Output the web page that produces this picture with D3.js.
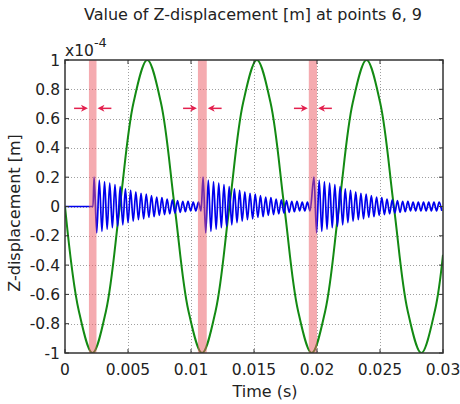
<!DOCTYPE html>
<html>
<head>
<meta charset="utf-8">
<script src="https://cdn.jsdelivr.net/npm/d3@7"></script>
<style>
  html, body { margin: 0; padding: 0; background: #fff; }
  svg { display: block; font-family: "DejaVu Sans", sans-serif; }
</style>
</head>
<body>
<svg id="chart" width="460" height="404"></svg>
<script>
// Excitation (green): time samples and displacement values (x1e-4 m)
const driveTime = [0, 0.00109, 0.00218, 0.00326, 0.00435, 0.00544, 0.00653, 0.00761,
  0.0087, 0.00979, 0.01088, 0.01196, 0.01305, 0.01414, 0.01523, 0.01631,
  0.0174, 0.01849, 0.01958, 0.02066, 0.02175, 0.02284, 0.02393, 0.02501,
  0.0261, 0.02719, 0.02828, 0.02936, 0.03];
const driveValue = [0, -0.71, -1, -0.71, 0, 0.71, 1, 0.71,
  0, -0.71, -1, -0.71, 0, 0.71, 1, 0.71,
  0, -0.71, -1, -0.71, 0, 0.71, 1, 0.71,
  0, -0.71, -1, -0.71, -0.33];

// Response (blue): impact instants and the ringing peaks that follow each one
const impactTimes = [0.00225, 0.0109, 0.0197];
const ringPeaks = [0.20, -0.18, 0.18, -0.17, 0.17, -0.155, 0.16, -0.145, 0.15, -0.135,
  0.135, -0.125, 0.12, -0.11, 0.11, -0.10, 0.10, -0.09, 0.09, -0.085,
  0.085, -0.075, 0.075, -0.07, 0.065, -0.06, 0.06, -0.055, 0.05, -0.05,
  0.045, -0.045, 0.04, -0.04, 0.035, -0.035, 0.035, -0.03, 0.03, -0.03,
  0.03, -0.03];
const tailPeaks = [0.03, -0.03, 0.03, -0.03, 0.03, -0.03, 0.03, -0.03];
const ringHalfPeriod = 0.000207;

// Contact windows (shaded) and tick labels
const contactStart = [0.0019, 0.01055, 0.01935];
const contactEnd = [0.0025, 0.01125, 0.0200];
const xTicks = [0, 0.005, 0.01, 0.015, 0.02, 0.025, 0.03];
const xTickLabels = ["0", "0.005", "0.01", "0.015", "0.02", "0.025", "0.03"];
const yTicks = [-1, -0.8, -0.6, -0.4, -0.2, 0, 0.2, 0.4, 0.6, 0.8, 1];
const yTickLabels = ["-1", "-0.8", "-0.6", "-0.4", "-0.2", "0", "0.2", "0.4", "0.6", "0.8", "1"];

const svg = d3.select("#chart");
const m = { left: 65, right: 17, top: 60, bottom: 51 };
const W = 460, H = 404;
const x = d3.scaleLinear().domain([0, 0.03]).range([m.left, W - m.right]);
const y = d3.scaleLinear().domain([-1, 1]).range([H - m.bottom, m.top]);

// Dotted grid
const grid = svg.append("g").attr("stroke", "#a0a0a0").attr("stroke-width", 1)
  .attr("stroke-dasharray", "1,2");
grid.selectAll("line.gx").data(xTicks.slice(1, -1)).join("line")
  .attr("x1", d => Math.round(x(d)) + 0.5).attr("x2", d => Math.round(x(d)) + 0.5)
  .attr("y1", y(1)).attr("y2", y(-1));
grid.selectAll("line.gy").data(yTicks.slice(1, -1)).join("line")
  .attr("y1", d => Math.round(y(d)) + 0.5).attr("y2", d => Math.round(y(d)) + 0.5)
  .attr("x1", x(0)).attr("x2", x(0.03));

// Build the response polyline from the impact data
const resp = [[0, 0], [impactTimes[0] - 0.00003, 0]];
impactTimes.forEach((t0, i) => {
  const peaks = i === impactTimes.length - 1 ? ringPeaks.concat(tailPeaks) : ringPeaks;
  peaks.forEach((v, k) => {
    const t = t0 + 0.00006 + k * ringHalfPeriod;
    if (t <= 0.03) resp.push([t, v]);
  });
});

svg.append("clipPath").attr("id", "plotclip").append("rect")
  .attr("x", x(0)).attr("y", y(1)).attr("width", x(0.03) - x(0)).attr("height", y(-1) - y(1));

const plot = svg.append("g").attr("clip-path", "url(#plotclip)");

plot.append("path")
  .datum(driveTime.map((t, i) => [t, driveValue[i]]))
  .attr("fill", "none").attr("stroke", "#138a13").attr("stroke-width", 2)
  .attr("d", d3.line().x(d => x(d[0])).y(d => y(d[1])).curve(d3.curveCatmullRom.alpha(0.5)));

plot.append("path")
  .datum(resp)
  .attr("fill", "none").attr("stroke", "#0000ee").attr("stroke-width", 1.7)
  .attr("stroke-linejoin", "round")
  .attr("d", d3.line().x(d => x(d[0])).y(d => y(d[1])).curve(d3.curveMonotoneX));

// Shaded contact windows (drawn over the curves, semi-transparent)
plot.selectAll("rect.band").data(contactStart).join("rect")
  .attr("x", (d) => x(d)).attr("width", (d, i) => x(contactEnd[i]) - x(d))
  .attr("y", y(1)).attr("height", y(-1) - y(1))
  .attr("fill", "rgb(236,88,98)").attr("opacity", 0.5);

// Arrows pointing at each window
const arrowY = y(0.67);
const arrowLen = 0.0011;
const arrowGap = 0.00008;
const arrows = [];
contactStart.forEach((s, i) => {
  arrows.push({ from: s - arrowGap - arrowLen, to: s - arrowGap });
  arrows.push({ from: contactEnd[i] + arrowGap + arrowLen, to: contactEnd[i] + arrowGap });
});
const ag = svg.append("g").attr("stroke", "#e3204e").attr("fill", "#e3204e");
arrows.forEach(a => {
  const x1 = x(a.from), x2 = x(a.to);
  const dir = Math.sign(x2 - x1);
  ag.append("line").attr("x1", x1).attr("x2", x2 - dir * 3).attr("y1", arrowY).attr("y2", arrowY)
    .attr("stroke-width", 1.5);
  ag.append("path").attr("stroke", "none")
    .attr("d", `M${x2},${arrowY} L${x2 - dir * 7},${arrowY - 3.5} L${x2 - dir * 5},${arrowY} L${x2 - dir * 7},${arrowY + 3.5} Z`);
});

// Frame and inward ticks
const axisColor = "#333";
svg.append("rect").attr("x", x(0)).attr("y", y(1))
  .attr("width", x(0.03) - x(0)).attr("height", y(-1) - y(1))
  .attr("fill", "none").attr("stroke", axisColor).attr("stroke-width", 1.5);

const tickLen = 4;
const ticks = svg.append("g").attr("stroke", axisColor).attr("stroke-width", 1);
xTicks.forEach(t => {
  ticks.append("line").attr("x1", x(t)).attr("x2", x(t)).attr("y1", y(-1)).attr("y2", y(-1) - tickLen);
  ticks.append("line").attr("x1", x(t)).attr("x2", x(t)).attr("y1", y(1)).attr("y2", y(1) + tickLen);
});
yTicks.forEach(v => {
  ticks.append("line").attr("y1", y(v)).attr("y2", y(v)).attr("x1", x(0)).attr("x2", x(0) + tickLen);
  ticks.append("line").attr("y1", y(v)).attr("y2", y(v)).attr("x1", x(0.03)).attr("x2", x(0.03) - tickLen);
});

// Tick labels
const fs = 15.5;
const fsLabel = 16;
svg.append("g").selectAll("text").data(xTicks).join("text")
  .attr("x", d => x(d)).attr("y", H - m.bottom + 22)
  .attr("text-anchor", "middle").attr("font-size", fs).attr("fill", "#222")
  .text((d, i) => xTickLabels[i]);
svg.append("g").selectAll("text").data(yTicks).join("text")
  .attr("x", x(0) - 5).attr("y", d => y(d)).attr("dy", "0.36em")
  .attr("text-anchor", "end").attr("font-size", fs).attr("fill", "#222")
  .text((d, i) => yTickLabels[i]);

// Exponent marker
const ex = svg.append("text").attr("x", x(0)).attr("y", 56).attr("font-size", fs).attr("fill", "#222");
ex.append("tspan").text("x10");
ex.append("tspan").attr("dy", -9).attr("font-size", 13).text("-4");

// Title and axis labels
svg.append("text").attr("x", 253).attr("y", 20).attr("text-anchor", "middle")
  .attr("font-size", fsLabel).attr("fill", "#222").text("Value of Z-displacement [m] at points 6, 9");
svg.append("text").attr("x", 265).attr("y", 397).attr("text-anchor", "middle")
  .attr("font-size", fsLabel).attr("fill", "#222").text("Time (s)");
svg.append("text").attr("transform", "translate(20,213) rotate(-90)")
  .attr("text-anchor", "middle").attr("font-size", fsLabel).attr("fill", "#222")
  .text("Z-displacement [m]");
</script>
</body>
</html>
